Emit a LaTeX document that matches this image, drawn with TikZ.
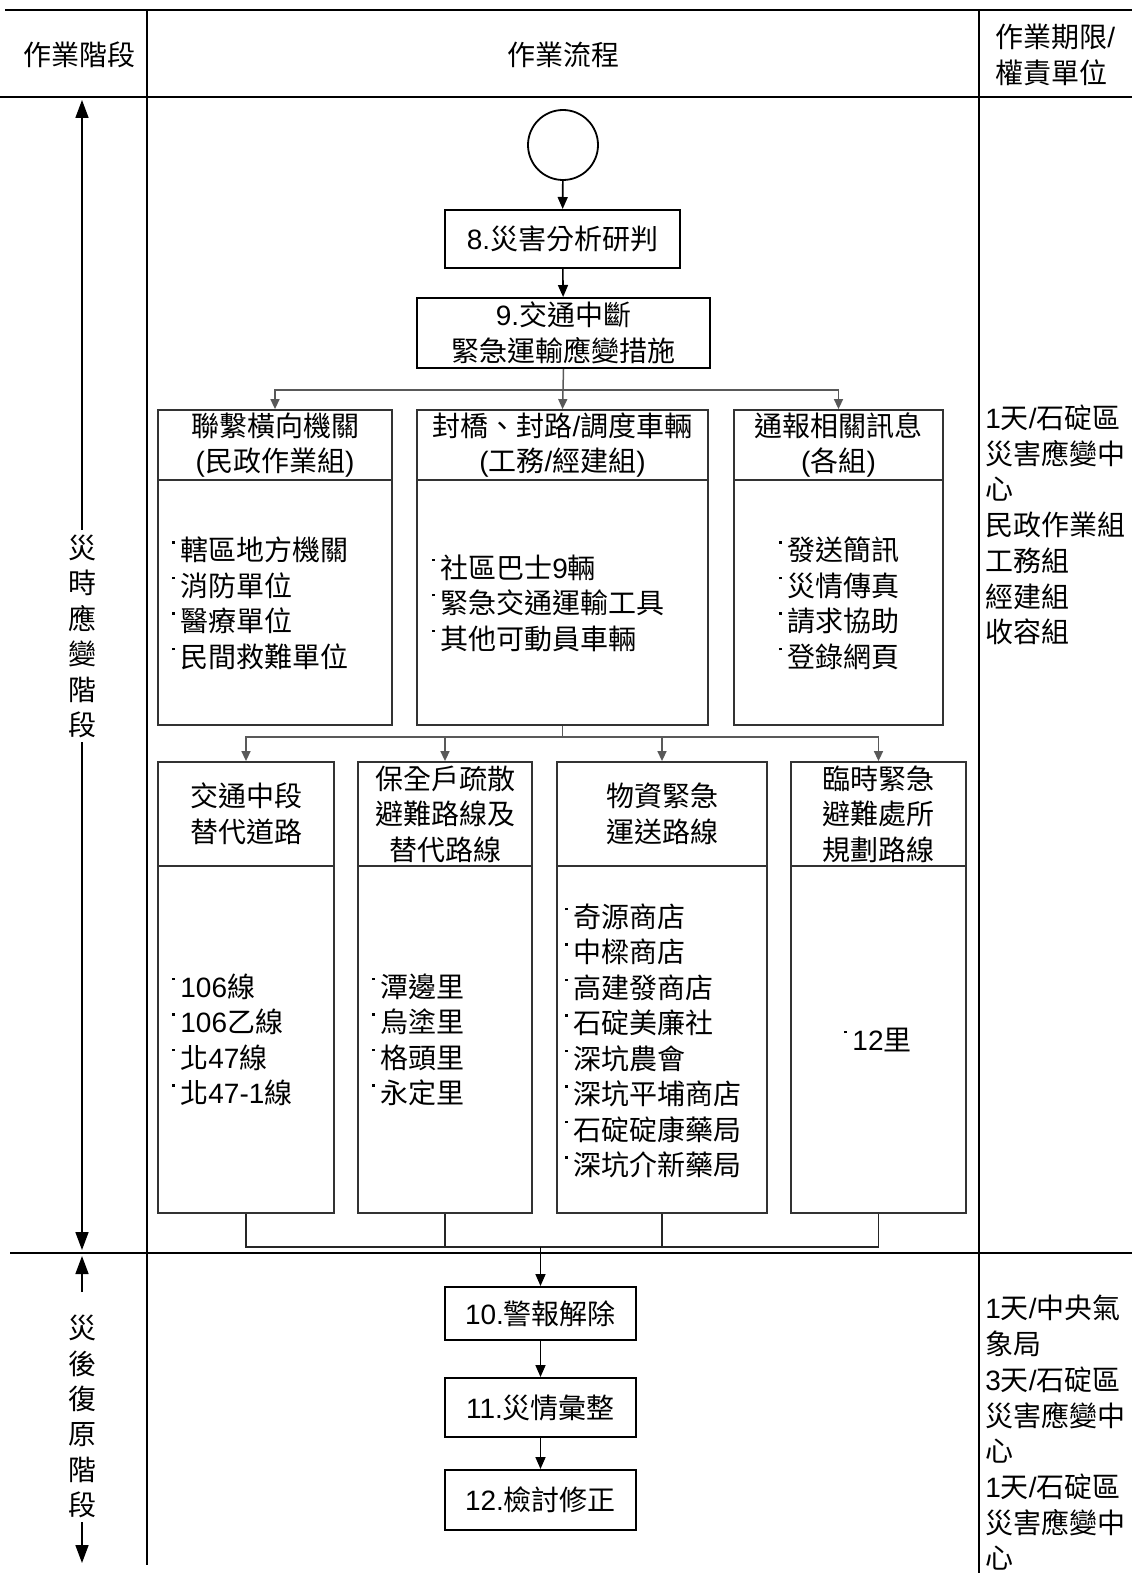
\documentclass[tikz,border=0pt]{standalone}
\usepackage{fontspec}
\setmainfont{Liberation Sans}
\newfontfamily\cjkf{Noto Sans CJK TC}
\newfontfamily\latf{Liberation Sans}
\count255="3000
\loop \XeTeXcharclass\count255=42 \advance\count255 by 1 \ifnum\count255<"3040 \repeat
\count255="4E00
\loop \XeTeXcharclass\count255=42 \advance\count255 by 1 \ifnum\count255<"A000 \repeat
\count255="FF00
\loop \XeTeXcharclass\count255=42 \advance\count255 by 1 \ifnum\count255<"FFF0 \repeat
\XeTeXinterchartokenstate=1
\XeTeXinterchartoks 0 42 = {\cjkf}
\XeTeXinterchartoks 4095 42 = {\cjkf}
\XeTeXinterchartoks 42 0 = {\latf}
\XeTeXinterchartoks 42 4095 = {\latf}
\newcommand\bdot{\makebox[4pt][l]{\raisebox{8.6pt}{\rule{1.2pt}{1.2pt}}}}
\usetikzlibrary{arrows.meta}
\begin{document}
\begin{tikzpicture}[x=0.5pt,y=-0.5pt,
  every node/.style={font=\fontsize{14}{17.75}\selectfont, inner sep=0pt},
  frame/.style={line width=1pt},
  box/.style={draw=black, line width=1pt, align=center},
  gbox/.style={draw=black!80, line width=0.9pt, align=center},
  flow/.style={line width=0.8pt, -{Triangle[length=6pt,width=5pt]}},
  fan/.style={draw=black!65, line width=0.75pt, -{Triangle[length=5pt,width=4.5pt,fill=black!65]}},
  fanline/.style={draw=black!65, line width=0.75pt},
  bline/.style={draw=black!85, line width=0.8pt},
  phase/.style={line width=0.8pt, -{Triangle[length=9pt,width=6.5pt]}},
  txt/.style={align=left, anchor=west},
  vtxt/.style={align=center, font=\fontsize{14}{17.7}\selectfont},
]
\useasboundingbox (0,0) rectangle (1132,1573);

% table frame
\draw[frame] (5,10) -- (1132,10);
\draw[frame] (0,97) -- (1132,97);
\draw[frame] (10,1253) -- (1132,1253);
\draw[frame] (147,10) -- (147,1565);
\draw[frame] (979,10) -- (979,1573);

% headers
\node (h1) at (80,55) {作業階段};
\node (h2) at (563,55) {作業流程};
\node[txt] (h3) at (995,55) {作業期限/\\權責單位};

% phase column
\node[vtxt] (ph1) at (82,636.5) {災\\時\\應\\變\\階\\段};
\coordinate (p1a) at (82,530);
\coordinate (p1t) at (82,100);
\coordinate (p1b) at (82,742);
\coordinate (p1d) at (82,1250);
\draw[phase] (p1a) -- (p1t);
\draw[phase] (p1b) -- (p1d);
\node[vtxt] (ph2) at (82,1416.5) {災\\後\\復\\原\\階\\段};
\coordinate (p2a) at (82,1292);
\coordinate (p2t) at (82,1256);
\coordinate (p2b) at (82,1522);
\coordinate (p2d) at (82,1563);
\draw[phase] (p2a) -- (p2t);
\draw[phase] (p2b) -- (p2d);

% start
\node[draw, circle, line width=0.9pt, minimum size=35pt] (st) at (563,145) {};
\node[box, minimum width=117.5pt, minimum height=29pt] (b8) at (562.5,239) {8.災害分析研判};
\node[box, minimum width=146.5pt, minimum height=35pt] (b9) at (563.5,333) {9.交通中斷\\緊急運輸應變措施};
\draw[flow] (st) -- (b8);
\draw[flow] (b8) -- (b9);

% row 1
\node[gbox, minimum width=117pt, minimum height=35pt] (ah) at (275,445) {聯繫橫向機關\\(民政作業組)};
\node[gbox, minimum width=117pt, minimum height=122.5pt] (ab) at (275,602.5) {};
\node[gbox, minimum width=145.5pt, minimum height=35pt] (bh) at (562.5,445) {封橋、封路/調度車輛\\(工務/經建組)};
\node[gbox, minimum width=145.5pt, minimum height=122.5pt] (bb) at (562.5,602.5) {};
\node[gbox, minimum width=104.5pt, minimum height=35pt] (ch) at (838.5,445) {通報相關訊息\\(各組)};
\node[gbox, minimum width=104.5pt, minimum height=122.5pt] (cb) at (838.5,602.5) {};

\node[txt] (at) at (172,603.5) {\bdot 轄區地方機關\\\bdot 消防單位\\\bdot 醫療單位\\\bdot 民間救難單位};
\node[txt] (bt) at (432,603) {\bdot 社區巴士9輛\\\bdot 緊急交通運輸工具\\\bdot 其他可動員車輛};
\node[txt] (ct) at (779,603.5) {\bdot 發送簡訊\\\bdot 災情傳真\\\bdot 請求協助\\\bdot 登錄網頁};

\coordinate (j1) at (563,390);
\draw[fanline] (b9.south) -- (j1);
\draw[fan] (j1) -| (ah.north);
\draw[fan] (j1) -- (bh.north);
\draw[fan] (j1) -| (ch.north);

% row 2
\node[gbox, minimum width=88pt, minimum height=52pt] (dh) at (246,814) {交通中段\\替代道路};
\node[gbox, minimum width=88pt, minimum height=173.5pt] (db) at (246,1039.5) {};
\node[gbox, minimum width=87pt, minimum height=52pt] (eh) at (445,814) {保全戶疏散\\避難路線及\\替代路線};
\node[gbox, minimum width=87pt, minimum height=173.5pt] (eb) at (445,1039.5) {};
\node[gbox, minimum width=105pt, minimum height=52pt] (fh) at (662,814) {物資緊急\\運送路線};
\node[gbox, minimum width=105pt, minimum height=173.5pt] (fb) at (662,1039.5) {};
\node[gbox, minimum width=87.5pt, minimum height=52pt] (gh) at (878.5,814) {臨時緊急\\避難處所\\規劃路線};
\node[gbox, minimum width=87.5pt, minimum height=173.5pt] (gb) at (878.5,1039.5) {};

\node[txt] (dt) at (172,1040) {\bdot 106線\\\bdot 106乙線\\\bdot 北47線\\\bdot 北47-1線};
\node[txt] (et) at (372,1040) {\bdot 潭邊里\\\bdot 烏塗里\\\bdot 格頭里\\\bdot 永定里};
\node[txt] (ft) at (565,1041) {\bdot 奇源商店\\\bdot 中樑商店\\\bdot 高建發商店\\\bdot 石碇美廉社\\\bdot 深坑農會\\\bdot 深坑平埔商店\\\bdot 石碇碇康藥局\\\bdot 深坑介新藥局};
\node (gt) at (878,1040) {\bdot 12里};

\coordinate (j2) at (562.5,737);
\draw[fanline] (bb.south) -- (j2);
\draw[fan] (j2) -| (dh.north);
\draw[fan] (j2) -| (eh.north);
\draw[fan] (j2) -| (fh.north);
\draw[fan] (j2) -| (gh.north);

% merge
\coordinate (j3) at (540.5,1247);
\draw[bline] (db.south) |- (j3) -| (gb.south);
\draw[bline] (eb.south) -- (eb.south |- j3);
\draw[bline] (fb.south) -- (fb.south |- j3);

% post-disaster
\node[box, minimum width=95.5pt, minimum height=26.5pt] (b10) at (540.5,1313.5) {10.警報解除};
\node[box, minimum width=95.5pt, minimum height=29.5pt] (b11) at (540.5,1407.5) {11.災情彙整};
\node[box, minimum width=95.5pt, minimum height=30pt] (b12) at (540.5,1500) {12.檢討修正};
\draw[flow] (j3) -- (b10);
\draw[flow] (b10) -- (b11);
\draw[flow] (b11) -- (b12);

% right column
\node[txt, font=\fontsize{14}{17.85}\selectfont] (r1) at (985,525) {1天/石碇區\\災害應變中\\心\\民政作業組\\工務組\\經建組\\收容組};
\node[txt, font=\fontsize{14}{17.85}\selectfont] (r2) at (985,1433) {1天/中央氣\\象局\\3天/石碇區\\災害應變中\\心\\1天/石碇區\\災害應變中\\心};
\end{tikzpicture}
\end{document}
